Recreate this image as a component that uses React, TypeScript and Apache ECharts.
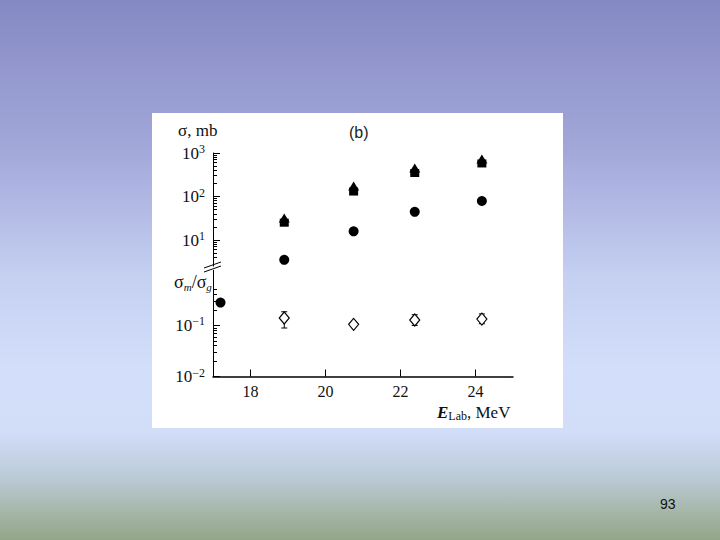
import React, { useEffect, useRef } from 'react';
import * as echarts from 'echarts';

// ---- data ----
const energies = [18.9, 20.75, 22.38, 24.17];
const sigmaTriangle = [32, 174, 452, 725];
const sigmaSquare = [25, 130, 347, 575];
const sigmaCircle = [3.5, 15.8, 44.5, 79];
const ratioValues = [0.14, 0.105, 0.128, 0.133];
const ratioErrLow = [0.089, 0.097, 0.1, 0.108];
const ratioErrHigh = [0.185, 0.117, 0.162, 0.168];
const lowCircleEnergy = [17.2];
const lowCircleValue = [0.28];

const xTickValues = [18, 20, 22, 24];
const upperMajor = [10, 100, 1000];
const upperMinor = [4, 5, 6, 7, 8, 9, 20, 30, 40, 50, 60, 70, 80, 90, 200, 300, 400, 500, 600, 700, 800, 900];
const lowerMajor = [0.01, 0.1];
const lowerMinor = [0.02, 0.03, 0.04, 0.05, 0.06, 0.07, 0.08, 0.09, 0.2, 0.3, 0.4, 0.5];

const SERIF = '"Liberation Serif", "DejaVu Serif", serif';
const SANS = '"Liberation Sans", Arial, sans-serif';

const expLabel = (v: number) => {
  const e = Math.round(Math.log10(v));
  const s = e < 0 ? '\u2212' + Math.abs(e) : String(e);
  return '{n|10}{s|' + s + '}';
};

const labelRich = {
  n: { fontSize: 17, fontFamily: SERIF, color: '#111', lineHeight: 20 },
  s: { fontSize: 12, fontFamily: SERIF, color: '#111', verticalAlign: 'top', lineHeight: 12 },
};

export default function App() {
  const ref = useRef<HTMLDivElement>(null);

  useEffect(() => {
    if (!ref.current) return;
    const chart = echarts.init(ref.current, null, { renderer: 'svg' });

    const upperGrid = { left: 213, right: 207, top: 153, bottom: 273.8, outerBoundsMode: 'none' };
    const lowerGrid = { left: 213, right: 207, top: 270.3, bottom: 163.5, outerBoundsMode: 'none' };

    const baseLine = { show: true, onZero: false, lineStyle: { color: '#000', width: 1 } };

    const option: any = {
      animation: false,
      backgroundColor: 'transparent',
      grid: [upperGrid, lowerGrid],
      xAxis: [
        {
          gridIndex: 0, type: 'value', min: 17, max: 25, show: false,
        },
        {
          gridIndex: 1, type: 'value', min: 17, max: 25,
          axisLine: { show: true, onZero: false, lineStyle: { color: '#000', width: 1.5 } },
          axisTick: { show: true, inside: true, length: 7, customValues: xTickValues, lineStyle: { color: '#000', width: 1 } },
          axisLabel: {
            show: true, customValues: xTickValues, margin: 7,
            fontSize: 16, lineHeight: 16, fontFamily: SERIF, color: '#111',
          },
          splitLine: { show: false },
        },
      ],
      yAxis: [
        {
          gridIndex: 0, type: 'log', logBase: 10, min: 2.5, max: 1000, position: 'left',
          axisLine: baseLine,
          axisTick: { show: true, inside: true, length: 7, customValues: upperMajor, lineStyle: { color: '#000' } },
          axisLabel: { show: true, customValues: upperMajor, margin: 8, formatter: expLabel, rich: labelRich },
          splitLine: { show: false },
        },
        {
          gridIndex: 0, type: 'log', logBase: 10, min: 2.5, max: 1000, position: 'left',
          axisLine: { show: false },
          axisTick: { show: true, inside: true, length: 4, customValues: upperMinor, lineStyle: { color: '#000' } },
          axisLabel: { show: false },
          splitLine: { show: false },
        },
        {
          gridIndex: 1, type: 'log', logBase: 10, min: 0.01, max: 1.2, position: 'left',
          axisLine: baseLine,
          axisTick: { show: true, inside: true, length: 7, customValues: lowerMajor, lineStyle: { color: '#000' } },
          axisLabel: { show: true, customValues: lowerMajor, margin: 8, formatter: expLabel, rich: labelRich },
          splitLine: { show: false },
        },
        {
          gridIndex: 1, type: 'log', logBase: 10, min: 0.01, max: 1.2, position: 'left',
          axisLine: { show: false },
          axisTick: { show: true, inside: true, length: 4, customValues: lowerMinor, lineStyle: { color: '#000' } },
          axisLabel: { show: false },
          splitLine: { show: false },
        },
      ],
      series: [
        {
          name: 'square', type: 'scatter', xAxisIndex: 0, yAxisIndex: 0,
          symbol: 'rect', symbolSize: [9, 8],
          itemStyle: { color: '#000', opacity: 1 },
          data: energies.map((e, i) => [e, sigmaSquare[i]]),
        },
        {
          name: 'triangle', type: 'scatter', xAxisIndex: 0, yAxisIndex: 0,
          symbol: 'triangle', symbolSize: [11, 9],
          itemStyle: { color: '#000', opacity: 1 },
          data: energies.map((e, i) => [e, sigmaTriangle[i]]),
        },
        {
          name: 'circle', type: 'scatter', xAxisIndex: 0, yAxisIndex: 0,
          symbol: 'circle', symbolSize: 10,
          itemStyle: { color: '#000', opacity: 1 },
          data: energies.map((e, i) => [e, sigmaCircle[i]]),
        },
        {
          name: 'lowCircle', type: 'scatter', xAxisIndex: 1, yAxisIndex: 2,
          symbol: 'circle', symbolSize: 10,
          itemStyle: { color: '#000', opacity: 1 },
          data: lowCircleEnergy.map((e, i) => [e, lowCircleValue[i]]),
        },
        {
          name: 'errors', type: 'custom', xAxisIndex: 1, yAxisIndex: 2, z: 2,
          data: energies.map((e, i) => [e, ratioErrLow[i], ratioErrHigh[i]]),
          renderItem: (params: any, api: any) => {
            const x = api.value(0);
            const p1 = api.coord([x, api.value(1)]);
            const p2 = api.coord([x, api.value(2)]);
            const w = 3;
            const st = { stroke: '#000', lineWidth: 1 };
            return {
              type: 'group',
              children: [
                { type: 'line', shape: { x1: p1[0], y1: p1[1], x2: p2[0], y2: p2[1] }, style: st },
                { type: 'line', shape: { x1: p1[0] - w, y1: p1[1], x2: p1[0] + w, y2: p1[1] }, style: st },
                { type: 'line', shape: { x1: p2[0] - w, y1: p2[1], x2: p2[0] + w, y2: p2[1] }, style: st },
              ],
            };
          },
        },
        {
          name: 'ratio', type: 'scatter', xAxisIndex: 1, yAxisIndex: 2, z: 3,
          symbol: 'diamond', symbolSize: [10, 12],
          itemStyle: { color: '#fff', borderColor: '#000', borderWidth: 1.2, opacity: 1 },
          data: energies.map((e, i) => [e, ratioValues[i]]),
        },
      ],
      graphic: [
        {
          type: 'text', left: 178, top: 122,
          style: { text: '\u03c3, mb', fontSize: 17, fontFamily: SERIF, fill: '#111' },
        },
        {
          type: 'text', left: 349, top: 124,
          style: { text: '(b)', fontSize: 16, fontFamily: SANS, fill: '#222' },
        },
        {
          type: 'text', left: 174, top: 273,
          style: {
            text: '{a|\u03c3}{b|m}{a|/\u03c3}{b|g}',
            rich: {
              a: { fontSize: 18, fontFamily: SERIF, fill: '#111', lineHeight: 20 },
              b: { fontSize: 11, fontFamily: SERIF, fontStyle: 'italic', fill: '#111', verticalAlign: 'bottom', lineHeight: 11 },
            },
          },
        },
        {
          type: 'text', left: 437, top: 404,
          style: {
            text: '{e|E}{l|Lab}{a|, MeV}',
            rich: {
              e: { fontSize: 17, fontFamily: SERIF, fontStyle: 'italic', fontWeight: 'bold', fill: '#111', lineHeight: 18 },
              l: { fontSize: 12, fontFamily: SERIF, fill: '#111', verticalAlign: 'bottom', lineHeight: 11 },
              a: { fontSize: 17, fontFamily: SERIF, fill: '#111', lineHeight: 18 },
            },
          },
        },
        {
          type: 'line', shape: { x1: 204, y1: 268, x2: 221, y2: 262 },
          style: { stroke: '#000', lineWidth: 1 },
        },
        {
          type: 'line', shape: { x1: 204, y1: 272, x2: 221, y2: 266 },
          style: { stroke: '#000', lineWidth: 1 },
        },
        {
          type: 'text', left: 660, top: 497,
          style: { text: '93', fontSize: 14, fontFamily: SANS, fill: '#111' },
        },
      ],
    };

    chart.setOption(option);
    return () => chart.dispose();
  }, []);

  return (
    <div
      style={{
        position: 'absolute', left: 0, top: 0, width: 720, height: 540, overflow: 'hidden',
        background:
          'linear-gradient(to bottom, #8589c3 0%, #a3a8da 28%, #c6d1f2 52%, #d3defa 68%, #d2ddf8 80%, #bccbd9 88%, #a8b9ae 94%, #93a687 100%)',
      }}
    >
      <div style={{ position: 'absolute', left: 152, top: 113, width: 411, height: 315, background: '#fff' }} />
      <div ref={ref} style={{ position: 'absolute', left: 0, top: 0, width: 720, height: 540 }} />
    </div>
  );
}
